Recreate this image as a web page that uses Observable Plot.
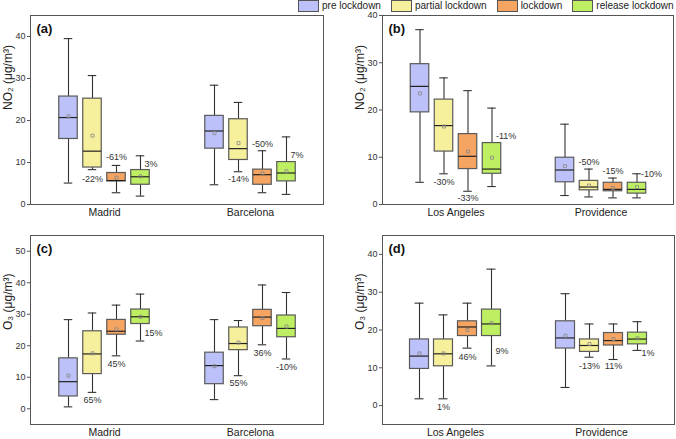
<!DOCTYPE html>
<html><head><meta charset="utf-8">
<script src="https://cdn.jsdelivr.net/npm/d3@7"></script>
<script src="https://cdn.jsdelivr.net/npm/@observablehq/plot@0.6"></script>
<style>
body{margin:0;background:#fff;font-family:"Liberation Sans",Arial,sans-serif;}
#wrap{position:relative;width:676px;height:439px;overflow:hidden;background:#fff;}
#wrap svg{position:absolute;}
#legend{position:absolute;left:298px;top:0;display:flex;font-size:10px;line-height:12px;color:#222;white-space:nowrap;}
#legend .item{display:flex;align-items:center;margin-right:10px;}
#legend .item:last-child{margin-right:0;}
#legend .sw{width:19px;height:10px;border:1px solid #555;margin-right:3px;}
</style></head>
<body>
<div id="wrap"><div id="legend"></div></div>
<script>
const periods = ["pre lockdown", "partial lockdown", "lockdown", "release lockdown"];
const colors = ["#BCC2F9", "#F6EF9C", "#F5A462", "#BEEF62"];

const citiesEU = ["Madrid", "Barcelona"];
const citiesUS = ["Los Angeles", "Providence"];

// rows: city, period, min, q1, median, q3, max, mean
const no2EU = [
  ["Madrid", "pre lockdown", 5.1, 15.6, 20.7, 25.7, 39.5, 21.0],
  ["Madrid", "partial lockdown", 8.3, 8.8, 12.7, 25.2, 30.7, 16.4],
  ["Madrid", "lockdown", 2.8, 5.5, 5.7, 7.5, 9.3, 6.4],
  ["Madrid", "release lockdown", 2.0, 4.7, 6.6, 8.2, 11.6, 6.7],
  ["Barcelona", "pre lockdown", 4.7, 13.3, 17.5, 21.1, 28.4, 17.0],
  ["Barcelona", "partial lockdown", 7.8, 10.6, 13.3, 20.3, 24.3, 14.6],
  ["Barcelona", "lockdown", 2.8, 4.7, 7.1, 8.3, 12.8, 7.4],
  ["Barcelona", "release lockdown", 2.4, 5.5, 7.5, 10.1, 16.1, 7.9]
];
const no2US = [
  ["Los Angeles", "pre lockdown", 4.7, 19.5, 25.0, 29.7, 37.0, 23.5],
  ["Los Angeles", "partial lockdown", 6.5, 11.2, 16.7, 22.2, 26.8, 16.5],
  ["Los Angeles", "lockdown", 2.8, 7.5, 10.2, 14.9, 24.1, 11.2],
  ["Los Angeles", "release lockdown", 3.8, 6.5, 7.5, 13.0, 20.4, 9.9],
  ["Providence", "pre lockdown", 1.9, 4.7, 7.3, 9.9, 17.0, 8.1],
  ["Providence", "partial lockdown", 1.6, 3.0, 3.7, 5.0, 7.5, 4.0],
  ["Providence", "lockdown", 1.4, 2.8, 3.2, 4.6, 5.6, 3.5],
  ["Providence", "release lockdown", 1.4, 2.3, 3.2, 4.6, 6.5, 3.7]
];
const o3EU = [
  ["Madrid", "pre lockdown", 0.6, 3.9, 8.6, 16.0, 28.3, 10.5],
  ["Madrid", "partial lockdown", 5.2, 11.0, 17.4, 24.6, 30.4, 17.6],
  ["Madrid", "lockdown", 16.8, 23.5, 24.6, 28.2, 32.9, 25.2],
  ["Madrid", "release lockdown", 21.5, 26.9, 29.2, 31.5, 36.4, 29.2],
  ["Barcelona", "pre lockdown", 2.9, 7.8, 13.7, 17.8, 28.3, 13.5],
  ["Barcelona", "partial lockdown", 10.5, 18.6, 20.7, 25.8, 28.0, 21.0],
  ["Barcelona", "lockdown", 20.3, 26.2, 29.1, 31.4, 39.3, 28.8],
  ["Barcelona", "release lockdown", 15.8, 22.7, 25.5, 29.6, 36.9, 26.1]
];
const o3US = [
  ["Los Angeles", "pre lockdown", 1.8, 9.7, 13.1, 17.5, 27.1, 13.8],
  ["Los Angeles", "partial lockdown", 1.8, 10.4, 13.7, 17.5, 24.0, 13.8],
  ["Los Angeles", "lockdown", 15.2, 18.4, 20.8, 22.3, 27.1, 20.0],
  ["Los Angeles", "release lockdown", 10.5, 18.4, 21.6, 25.4, 36.1, 21.8],
  ["Providence", "pre lockdown", 4.8, 15.1, 17.9, 22.3, 29.6, 18.5],
  ["Providence", "partial lockdown", 12.8, 14.2, 15.9, 17.5, 21.6, 16.3],
  ["Providence", "lockdown", 12.2, 15.9, 17.2, 19.2, 21.6, 17.6],
  ["Providence", "release lockdown", 14.6, 16.2, 17.6, 19.3, 22.2, 17.8]
];

// labels: city, period, text, value where it sits, align (c = centred, r = right of whisker)
const no2EULabels = [
  ["Madrid", "partial lockdown", "-22%", 6.0, "c"],
  ["Madrid", "lockdown", "-61%", 11.3, "c"],
  ["Madrid", "release lockdown", "3%", 9.6, "r"],
  ["Barcelona", "partial lockdown", "-14%", 6.0, "c"],
  ["Barcelona", "lockdown", "-50%", 14.4, "c"],
  ["Barcelona", "release lockdown", "7%", 11.7, "r"]
];
const no2USLabels = [
  ["Los Angeles", "partial lockdown", "-30%", 4.7, "c"],
  ["Los Angeles", "lockdown", "-33%", 1.3, "c"],
  ["Los Angeles", "release lockdown", "-11%", 14.4, "r"],
  ["Providence", "partial lockdown", "-50%", 9.0, "c"],
  ["Providence", "lockdown", "-15%", 7.0, "c"],
  ["Providence", "release lockdown", "-10%", 6.5, "r"]
];
const o3EULabels = [
  ["Madrid", "partial lockdown", "65%", 2.9, "c"],
  ["Madrid", "lockdown", "45%", 14.3, "c"],
  ["Madrid", "release lockdown", "15%", 23.9, "r"],
  ["Barcelona", "partial lockdown", "55%", 8.0, "c"],
  ["Barcelona", "lockdown", "36%", 17.8, "c"],
  ["Barcelona", "release lockdown", "-10%", 13.1, "c"]
];
const o3USLabels = [
  ["Los Angeles", "partial lockdown", "1%", -0.3, "c"],
  ["Los Angeles", "lockdown", "46%", 12.9, "c"],
  ["Los Angeles", "release lockdown", "9%", 14.5, "r"],
  ["Providence", "partial lockdown", "-13%", 10.4, "c"],
  ["Providence", "lockdown", "11%", 10.4, "c"],
  ["Providence", "release lockdown", "1%", 13.9, "r"]
];

const ticks0to40 = [0, 10, 20, 30, 40];
const ticks0to50 = [0, 10, 20, 30, 40, 50];

function panel(cfg) {
  const data = cfg.rows.map(([city, period, min, q1, med, q3, max, mean]) => ({city, period, min, q1, med, q3, max, mean}));
  const labs = cfg.labels.map(([city, period, text, y, align]) => ({city, period, text, y, align}));
  const band = (cfg.width - cfg.mL - cfg.mR) / cfg.cities.length;
  const boxW = 19, capW = 9, step = 24;
  const boxInset = (band - boxW) / 2, capInset = (band - capW) / 2;
  const whisk = {stroke: "#333", strokeWidth: 1.1};
  const marks = [];
  periods.forEach((p, i) => {
    const d = data.filter(r => r.period === p);
    const dx = (i - 1.5) * step;
    marks.push(
      Plot.ruleX(d, {x: "city", y1: "min", y2: "q1", dx, ...whisk}),
      Plot.ruleX(d, {x: "city", y1: "q3", y2: "max", dx, ...whisk}),
      Plot.tickY(d, {x: "city", y: "min", dx, insetLeft: capInset, insetRight: capInset, ...whisk}),
      Plot.tickY(d, {x: "city", y: "max", dx, insetLeft: capInset, insetRight: capInset, ...whisk}),
      Plot.barY(d, {x: "city", y1: "q1", y2: "q3", dx, insetLeft: boxInset, insetRight: boxInset, fill: colors[i], stroke: "#5a5a5a", strokeWidth: 1.2}),
      Plot.tickY(d, {x: "city", y: "med", dx, insetLeft: boxInset, insetRight: boxInset, stroke: "#222", strokeWidth: 1.2}),
      Plot.dot(d, {x: "city", y: "mean", dx, symbol: "square", r: 1.7, stroke: "#888", strokeWidth: 0.8, fill: "none"}),
      Plot.text(labs.filter(l => l.period === p && l.align === "c"), {x: "city", y: "y", text: "text", dx, fontSize: 9, fill: "#333"}),
      Plot.text(labs.filter(l => l.period === p && l.align === "r"), {x: "city", y: "y", text: "text", dx: dx + 4, textAnchor: "start", fontSize: 9, fill: "#333"})
    );
  });
  const svg = Plot.plot({
    width: cfg.width, height: cfg.height,
    marginLeft: cfg.mL, marginRight: cfg.mR, marginTop: cfg.mT, marginBottom: cfg.mB,
    x: {domain: cfg.cities, padding: 0},
    y: {domain: cfg.yDomain},
    style: {fontFamily: "'Liberation Sans', Arial, sans-serif", fontSize: "9px", color: "#333", background: "transparent", overflow: "visible"},
    marks: [
      Plot.axisY(cfg.yTicks, {tickSize: 3, tickPadding: 2, fontSize: 9, label: null, stroke: "#555", fill: "#333"}),
      Plot.axisX({tickSize: 0, tickPadding: 4, fontSize: 10.5, label: null, fill: "#222"}),
      ...marks,
      Plot.frame({stroke: "#555", strokeWidth: 1}),
      Plot.text([cfg.title], {text: d => d, frameAnchor: "left", rotate: -90, dx: -22, fontSize: 12, fill: "#222"}),
      Plot.text([cfg.letter], {text: d => d, frameAnchor: "top-left", dx: 6, dy: 13, fontWeight: "bold", fontSize: 13, textAnchor: "start", lineAnchor: "middle", fill: "#111"})
    ]
  });
  svg.style.left = cfg.left + "px";
  svg.style.top = cfg.top + "px";
  document.getElementById("wrap").appendChild(svg);
}

panel({rows: no2EU, labels: no2EULabels, cities: citiesEU, yDomain: [0, 45], yTicks: ticks0to40,
  title: "NO₂ (μg/m³)", letter: "(a)", left: 0, top: 0, width: 338, height: 220, mL: 30, mR: 15, mT: 15, mB: 16});
panel({rows: no2US, labels: no2USLabels, cities: citiesUS, yDomain: [0, 40], yTicks: ticks0to40,
  title: "NO₂ (μg/m³)", letter: "(b)", left: 338, top: 0, width: 338, height: 220, mL: 44, mR: 3, mT: 15, mB: 16});
panel({rows: o3EU, labels: o3EULabels, cities: citiesEU, yDomain: [-5, 55], yTicks: ticks0to50,
  title: "O₃ (μg/m³)", letter: "(c)", left: 0, top: 220, width: 338, height: 219, mL: 30, mR: 15, mT: 15, mB: 15});
panel({rows: o3US, labels: o3USLabels, cities: citiesUS, yDomain: [-5, 45], yTicks: ticks0to40,
  title: "O₃ (μg/m³)", letter: "(d)", left: 338, top: 220, width: 338, height: 219, mL: 44, mR: 2, mT: 15, mB: 15});

const legend = document.getElementById("legend");
periods.forEach((p, i) => {
  const item = document.createElement("div");
  item.className = "item";
  const sw = document.createElement("div");
  sw.className = "sw";
  sw.style.background = colors[i];
  const t = document.createElement("span");
  t.textContent = p;
  item.appendChild(sw);
  item.appendChild(t);
  legend.appendChild(item);
});
</script>
</body></html>
